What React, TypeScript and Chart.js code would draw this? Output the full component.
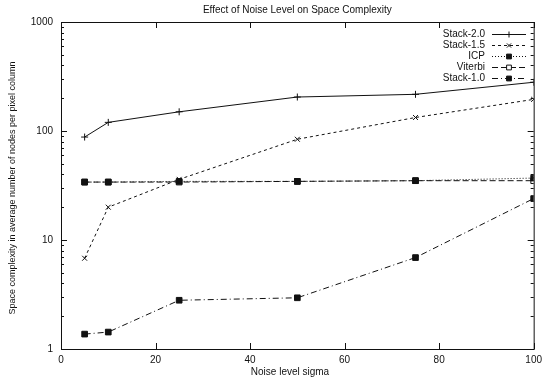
import React, { useEffect, useRef } from "react";
import { Chart, registerables } from "chart.js";
import { drawPoint } from "chart.js/helpers";

Chart.register(...registerables);

const noiseLevels = [5, 10, 25, 50, 75, 100];
const stack20 = [88, 120, 150, 205, 217, 280];
const stack15 = [6.8, 20, 36, 84, 133, 195];
const icp = [34, 34, 34.5, 34.5, 35, 37];
const viterbi = [34, 34, 34, 34.5, 35, 35];
const stack10 = [1.37, 1.43, 2.8, 2.95, 6.9, 24];

const xTicks = [0, 20, 40, 60, 80, 100];
const yDecades = [1, 10, 100, 1000];

const chartTitle = "Effect of Noise Level on Space Complexity";
const xTitle = "Noise level sigma";
const yTitle = "Space complexity in average number of nodes per pixel column";

const FONT = "'Liberation Sans', Arial, Helvetica, sans-serif";
const INK = "#111";

const toPoints = (ys: number[]) => noiseLevels.map((x, i) => ({ x, y: ys[i] }));

const framePlugin = {
  id: "frame",
  afterDraw(chart: any) {
    const { ctx, chartArea: a, scales } = chart;
    const xs = scales.x;
    const ys = scales.y;
    ctx.save();
    ctx.strokeStyle = INK;
    ctx.lineWidth = 1;
    ctx.setLineDash([]);
    ctx.strokeRect(a.left + 0.5, a.top + 0.5, a.right - a.left, a.bottom - a.top);
    ctx.beginPath();
    for (const v of xTicks) {
      const px = Math.round(xs.getPixelForValue(v)) + 0.5;
      ctx.moveTo(px, a.bottom);
      ctx.lineTo(px, a.bottom - 6);
      ctx.moveTo(px, a.top);
      ctx.lineTo(px, a.top + 6);
    }
    for (let d = 0; d < yDecades.length; d++) {
      const base = yDecades[d];
      for (let m = 1; m <= 9; m++) {
        const v = base * m;
        if (v > 1000) break;
        const py = Math.round(ys.getPixelForValue(v)) + 0.5;
        const len = m === 1 ? 6 : 3;
        ctx.moveTo(a.left, py);
        ctx.lineTo(a.left + len, py);
        ctx.moveTo(a.right, py);
        ctx.lineTo(a.right - len, py);
      }
    }
    ctx.stroke();

    ctx.fillStyle = INK;
    ctx.font = `10px ${FONT}`;
    ctx.textAlign = "center";
    ctx.textBaseline = "middle";
    ctx.fillText(chartTitle, (a.left + a.right) / 2, 10);
    ctx.fillText(xTitle, 290, 372);

    ctx.save();
    ctx.font = `9px ${FONT}`;
    ctx.translate(13, 188);
    ctx.rotate(-Math.PI / 2);
    ctx.fillText(yTitle, 0, 0);
    ctx.restore();

    ctx.font = `10px ${FONT}`;
    const rows = [34, 45, 56, 67, 78];
    chart.data.datasets.forEach((ds: any, i: number) => {
      const y = rows[i];
      ctx.textAlign = "right";
      ctx.fillStyle = INK;
      ctx.fillText(ds.label, 485, y);
      ctx.beginPath();
      ctx.setLineDash(ds.borderDash || []);
      ctx.strokeStyle = INK;
      ctx.lineWidth = 1;
      ctx.moveTo(492, y + 0.5);
      ctx.lineTo(526, y + 0.5);
      ctx.stroke();
      ctx.setLineDash([]);
      ctx.fillStyle = ds.pointBackgroundColor;
      ctx.strokeStyle = INK;
      drawPoint(ctx, { pointStyle: ds.pointStyle, radius: ds.pointRadius * 0.85, rotation: 0, borderWidth: 1 }, 509, y + 0.5);
    });
    ctx.restore();
  },
};

export default function App() {
  const ref = useRef<HTMLCanvasElement | null>(null);
  useEffect(() => {
    if (!ref.current) return;
    const common = {
      borderColor: INK,
      borderWidth: 1,
      pointBorderColor: INK,
      pointBorderWidth: 1,
      fill: false,
      tension: 0,
    };
    const chart = new Chart(ref.current, {
      type: "line",
      data: {
        datasets: [
          { ...common, label: "Stack-2.0", data: toPoints(stack20), borderDash: [], pointStyle: "cross", pointRadius: 3.5, pointBackgroundColor: INK },
          { ...common, label: "Stack-1.5", data: toPoints(stack15), borderDash: [3, 3], pointStyle: "crossRot", pointRadius: 3.5, pointBackgroundColor: INK },
          { ...common, label: "ICP", data: toPoints(icp), borderDash: [1, 2], pointStyle: "rect", pointRadius: 4, pointBackgroundColor: INK },
          { ...common, label: "Viterbi", data: toPoints(viterbi), borderDash: [6, 3], pointStyle: "rect", pointRadius: 4, pointBackgroundColor: "#fff" },
          { ...common, label: "Stack-1.0", data: toPoints(stack10), borderDash: [6, 3, 1, 3], pointStyle: "rect", pointRadius: 4, pointBackgroundColor: INK },
        ] as any,
      },
      options: {
        animation: false,
        responsive: false,
        maintainAspectRatio: false,
        layout: { padding: { top: 22, right: 10, left: 0, bottom: 0 } },
        plugins: { legend: { display: false }, title: { display: false }, tooltip: { enabled: false } },
        scales: {
          x: {
            type: "linear",
            min: 0,
            max: 100,
            afterBuildTicks: (s: any) => { s.ticks = xTicks.map((v) => ({ value: v })); },
            afterFit: (s: any) => { s.height = 34; },
            grid: { display: false, drawTicks: false },
            border: { display: false },
            ticks: { color: INK, font: { family: FONT, size: 10 }, padding: 5, maxRotation: 0 },
            title: { display: false },
          },
          y: {
            type: "logarithmic",
            min: 1,
            max: 1000,
            afterBuildTicks: (s: any) => { s.ticks = yDecades.map((v) => ({ value: v, major: true })); },
            afterFit: (s: any) => { s.width = 61; },
            grid: { display: false, drawTicks: false },
            border: { display: false },
            ticks: { color: INK, font: { family: FONT, size: 10 }, padding: 8, callback: (v: any) => String(v) },
            title: { display: false },
          },
        },
      },
      plugins: [framePlugin],
    } as any);
    return () => chart.destroy();
  }, []);
  return (
    <div style={{ position: "fixed", left: 0, top: 0, width: 547, height: 383, background: "#fff" }}>
      <canvas ref={ref} width={547} height={383} style={{ width: 547, height: 383 }} />
    </div>
  );
}
